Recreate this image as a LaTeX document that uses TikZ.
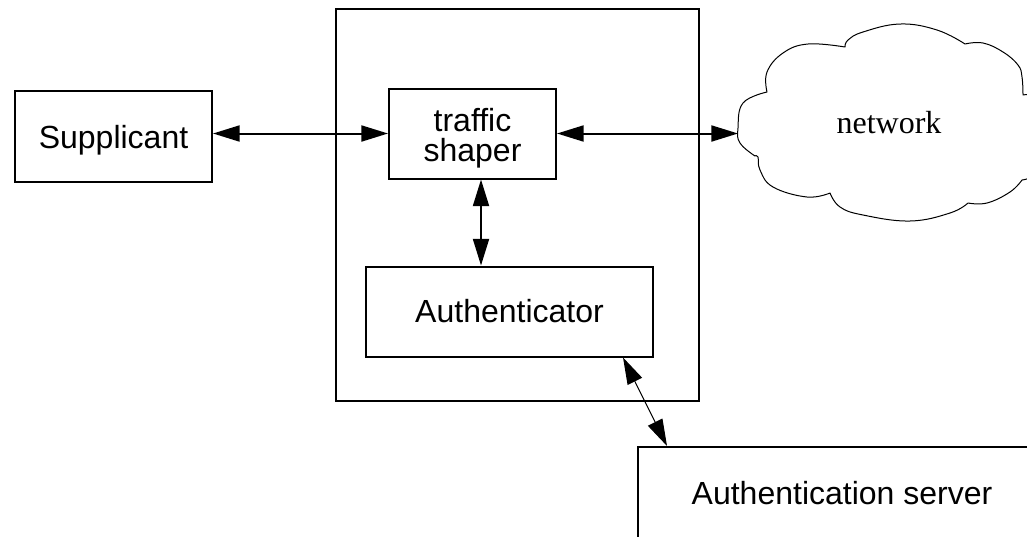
\documentclass[tikz,border=0pt]{standalone}
\usepackage{fontspec}
\setmainfont{Liberation Serif}
\newfontfamily\helv{Liberation Sans}
\usetikzlibrary{arrows.meta}
\begin{document}
\begin{tikzpicture}[x=0.75pt,y=-0.75pt,
  box/.style={draw,line width=1.5pt,rectangle,inner sep=0pt,font=\helv\fontsize{24}{23}\selectfont,align=center},
  tipA/.tip={Triangle[length=20pt,width=12pt]},
  arr/.style={line width=1.5pt,tipA-tipA},
  thinarr/.style={line width=0.75pt,tipA-tipA},
  cloudline/.style={line width=0.75pt,line join=round}]
\useasboundingbox (0,0) rectangle (1027,536);
\clip (0,0) rectangle (1027,536);
% boxes
\node[box,minimum width={363*0.75pt},minimum height={392*0.75pt}] (outer) at (517.5,205) {};
\node[box,minimum width={197*0.75pt},minimum height={91*0.75pt},text height=20pt,text depth=2.2pt] (supp) at (113.5,136.6) {Supplicant};
\node[box,minimum width={167*0.75pt},minimum height={90*0.75pt},text height=44pt,text depth=1.7pt] (shaper) at (472.5,133.5) {traffic\\shaper};
\node[box,minimum width={287*0.75pt},minimum height={90*0.75pt}] (auth) at (509.5,311.5) {Authenticator};
\node[box,minimum width={408*0.75pt},minimum height={92*0.75pt}] (server) at (842,493) {Authentication server};
% cloud
\draw[cloudline]
 plot[smooth,tension=0.7] coordinates {(755,156)(740,143)(738,128)(743,103)(767,92)}
 -- plot[smooth,tension=0.7] coordinates {(767,92)(767,72)(783,53)(808,44)(845,47)}
 -- plot[smooth,tension=0.7] coordinates {(845,47)(848,40)(863,32)(900,24)(937,30)(965,44)}
 -- plot[smooth,tension=0.7] coordinates {(965,44)(983,43)(1003,52)(1018,65)(1022,77)(1023,95)}
 -- plot[smooth,tension=0.7] coordinates {(1023,95)(1040,100)(1050,135)(1040,170)(1022,180)}
 -- plot[smooth,tension=0.7] coordinates {(1022,180)(1010,192)(987,203)(968,203)}
 -- plot[smooth,tension=0.7] coordinates {(968,203)(950,213)(910,221)(863,215)(840,207)(830,193)}
 -- plot[smooth,tension=0.7] coordinates {(830,193)(807,197)(773,187)(760,170)(758,157)(755,156)} -- cycle;
\node[font=\fontsize{24}{24}\selectfont] (net) at (889,122.5) {network};
\coordinate (cloudL) at (738,133.5);
% connectors
\coordinate (va) at (481,0);
\coordinate (da) at (623,0);
\coordinate (db) at (667,0);
\draw[arr] (supp.east |- shaper.west) -- (shaper.west);
\draw[arr] (shaper.east) -- (cloudL);
\draw[arr] (va |- shaper.south) -- (va |- auth.north);
\draw[thinarr] (da |- auth.south) -- (db |- server.north);
\end{tikzpicture}
\end{document}
